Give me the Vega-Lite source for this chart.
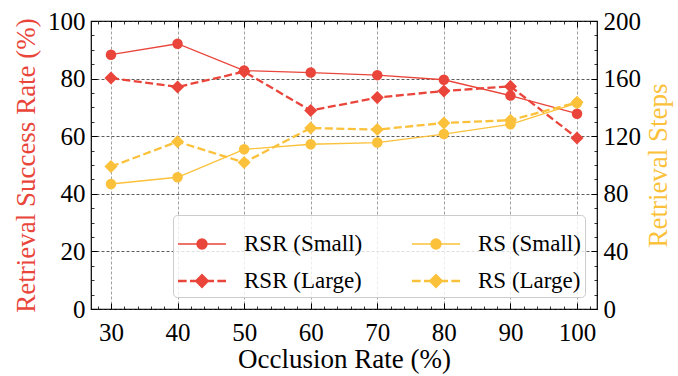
{
  "$schema": "https://vega.github.io/schema/vega-lite/v6.json",
  "width": 506,
  "height": 288,
  "autosize": {"type": "none"},
  "padding": {"left": 91, "top": 21, "right": 81, "bottom": 67},
  "background": "white",
  "config": {
    "view": {"stroke": "black", "strokeWidth": 1.2},
    "font": "Liberation Serif",
    "axis": {"labelFont": "Liberation Serif", "titleFont": "Liberation Serif", "labelColor": "black", "titleColor": "black", "titleFontWeight": "normal", "tickColor": "black", "domain": false},
    "legend": {"labelFont": "Liberation Serif"}
  },
  "data": {
    "values": [
      {"x": 30, "series": "RSR (Small)", "v": 88.3},
      {"x": 40, "series": "RSR (Small)", "v": 92.1},
      {"x": 50, "series": "RSR (Small)", "v": 82.8},
      {"x": 60, "series": "RSR (Small)", "v": 82.1},
      {"x": 70, "series": "RSR (Small)", "v": 81.2},
      {"x": 80, "series": "RSR (Small)", "v": 79.6},
      {"x": 90, "series": "RSR (Small)", "v": 74.1},
      {"x": 100, "series": "RSR (Small)", "v": 67.8},
      {"x": 30, "series": "RSR (Large)", "v": 80.2},
      {"x": 40, "series": "RSR (Large)", "v": 77.1},
      {"x": 50, "series": "RSR (Large)", "v": 82.4},
      {"x": 60, "series": "RSR (Large)", "v": 68.9},
      {"x": 70, "series": "RSR (Large)", "v": 73.4},
      {"x": 80, "series": "RSR (Large)", "v": 75.7},
      {"x": 90, "series": "RSR (Large)", "v": 77.3},
      {"x": 100, "series": "RSR (Large)", "v": 59.4},
      {"x": 30, "series": "RS (Small)", "v": 86.8},
      {"x": 40, "series": "RS (Small)", "v": 91.5},
      {"x": 50, "series": "RS (Small)", "v": 110.9},
      {"x": 60, "series": "RS (Small)", "v": 114.4},
      {"x": 70, "series": "RS (Small)", "v": 115.6},
      {"x": 80, "series": "RS (Small)", "v": 121.5},
      {"x": 90, "series": "RS (Small)", "v": 128.3},
      {"x": 100, "series": "RS (Small)", "v": 143.0},
      {"x": 30, "series": "RS (Large)", "v": 98.9},
      {"x": 40, "series": "RS (Large)", "v": 116.2},
      {"x": 50, "series": "RS (Large)", "v": 101.7},
      {"x": 60, "series": "RS (Large)", "v": 125.7},
      {"x": 70, "series": "RS (Large)", "v": 124.6},
      {"x": 80, "series": "RS (Large)", "v": 129.2},
      {"x": 90, "series": "RS (Large)", "v": 131.1},
      {"x": 100, "series": "RS (Large)", "v": 143.5}
    ]
  },
  "layer": [
    {
      "transform": [{"filter": {"field": "series", "equal": "RSR (Small)"}}],
      "mark": {"type": "line", "strokeWidth": 1.3},
      "encoding": {
        "x": {"field": "x", "type": "quantitative", "scale": {"domain": [27, 103], "nice": false, "zero": false},
          "axis": {"orient": "bottom", "values": [30, 40, 50, 60, 70, 80, 90, 100], "title": "Occlusion Rate (%)", "ticks": false, "grid": true, "gridColor": "#888888", "gridDash": [3, 2], "gridWidth": 0.8, "labelFontSize": 25, "labelPadding": 11, "titleFontSize": 27, "titlePadding": 1}},
        "y": {"field": "v", "type": "quantitative", "scale": {"domain": [0, 100], "nice": false, "zero": true},
          "axis": {"orient": "left", "values": [0, 20, 40, 60, 80, 100], "title": "Retrieval Success Rate (%)", "titleColor": "#E9453A", "ticks": false, "grid": true, "gridColor": "#333333", "gridDash": [3, 2], "gridWidth": 0.8, "labelFontSize": 25, "labelPadding": 6, "titleFontSize": 27, "titlePadding": 7}},
        "color": {"field": "series", "type": "nominal", "scale": {"domain": ["RSR (Small)", "RSR (Large)", "RS (Small)", "RS (Large)"], "range": ["#E9453A", "#E9453A", "#FBC13A", "#FBC13A"]},
          "legend": {
            "title": null, "orient": "bottom-right", "offset": 12, "columns": 2,
            "symbolSize": 2304, "symbolStrokeWidth": 1.3,
            "labelFont": "Liberation Serif", "labelFontSize": 23, "labelColor": "black", "labelOffset": 17, "labelLimit": 300,
            "columnPadding": 46, "rowPadding": 0, "padding": 4,
            "fillColor": "rgba(255,255,255,0.8)", "strokeColor": "#cccccc", "cornerRadius": 4,
            "encode": {
              "symbols": {
                "update": {
                  "size": {"value": 2304},
                  "fill": {"condition": {"test": "indexof(datum.value, 'RSR') === 0", "value": "#E9453A"}, "value": "#FBC13A"},
                  "stroke": {"condition": {"test": "indexof(datum.value, 'RSR') === 0", "value": "#E9453A"}, "value": "#FBC13A"},
                  "strokeWidth": {"value": 1.3},
                  "opacity": {"value": 1},
                  "fillOpacity": {"value": 1},
                  "strokeOpacity": {"value": 1}
                }
              }
            }
          }}
      }
    },
    {
      "transform": [{"filter": {"field": "series", "equal": "RSR (Small)"}}],
      "mark": {"type": "point", "filled": true, "opacity": 1, "shape": "circle", "size": 110},
      "encoding": {
        "x": {"field": "x", "type": "quantitative", "scale": {"domain": [27, 103], "nice": false, "zero": false}, "axis": null},
        "y": {"field": "v", "type": "quantitative", "scale": {"domain": [0, 100], "nice": false}, "axis": null},
        "color": {"field": "series", "type": "nominal", "scale": {"domain": ["RSR (Small)", "RSR (Large)", "RS (Small)", "RS (Large)"], "range": ["#E9453A", "#E9453A", "#FBC13A", "#FBC13A"]}}
      }
    },
    {
      "transform": [{"filter": {"field": "series", "equal": "RSR (Large)"}}],
      "mark": {"type": "line", "strokeWidth": 2.3, "strokeDash": [8, 3.5]},
      "encoding": {
        "x": {"field": "x", "type": "quantitative", "scale": {"domain": [27, 103], "nice": false, "zero": false}, "axis": null},
        "y": {"field": "v", "type": "quantitative", "scale": {"domain": [0, 100], "nice": false}, "axis": null},
        "color": {"field": "series", "type": "nominal", "scale": {"domain": ["RSR (Small)", "RSR (Large)", "RS (Small)", "RS (Large)"], "range": ["#E9453A", "#E9453A", "#FBC13A", "#FBC13A"]}}
      }
    },
    {
      "transform": [{"filter": {"field": "series", "equal": "RSR (Large)"}}],
      "mark": {"type": "point", "filled": true, "opacity": 1, "shape": "diamond", "size": 170},
      "encoding": {
        "x": {"field": "x", "type": "quantitative", "scale": {"domain": [27, 103], "nice": false, "zero": false}, "axis": null},
        "y": {"field": "v", "type": "quantitative", "scale": {"domain": [0, 100], "nice": false}, "axis": null},
        "color": {"field": "series", "type": "nominal", "scale": {"domain": ["RSR (Small)", "RSR (Large)", "RS (Small)", "RS (Large)"], "range": ["#E9453A", "#E9453A", "#FBC13A", "#FBC13A"]}}
      }
    },
    {
      "transform": [{"filter": {"field": "series", "equal": "RS (Small)"}}],
      "mark": {"type": "line", "strokeWidth": 1.3},
      "encoding": {
        "x": {"field": "x", "type": "quantitative", "scale": {"domain": [27, 103], "nice": false, "zero": false},
          "axis": {"orient": "top", "values": [30, 40, 50, 60, 70, 80, 90, 100], "labels": false, "ticks": true, "tickSize": -6, "tickWidth": 1, "grid": false, "title": null}},
        "y": {"field": "v", "type": "quantitative", "scale": {"domain": [0, 200], "nice": false, "zero": true},
          "axis": {"orient": "right", "values": [0, 40, 80, 120, 160, 200], "title": "Retrieval Steps", "titleColor": "#FBC13A", "titleAngle": 270, "ticks": false, "grid": false, "labelFontSize": 25, "labelPadding": 6, "titleFontSize": 27, "titlePadding": 32}},
        "color": {"field": "series", "type": "nominal", "scale": {"domain": ["RSR (Small)", "RSR (Large)", "RS (Small)", "RS (Large)"], "range": ["#E9453A", "#E9453A", "#FBC13A", "#FBC13A"]}}
      }
    },
    {
      "transform": [{"filter": {"field": "series", "equal": "RS (Small)"}}],
      "mark": {"type": "point", "filled": true, "opacity": 1, "shape": "circle", "size": 110},
      "encoding": {
        "x": {"field": "x", "type": "quantitative", "scale": {"domain": [27, 103], "nice": false, "zero": false}, "axis": null},
        "y": {"field": "v", "type": "quantitative", "scale": {"domain": [0, 200], "nice": false}, "axis": null},
        "color": {"field": "series", "type": "nominal", "scale": {"domain": ["RSR (Small)", "RSR (Large)", "RS (Small)", "RS (Large)"], "range": ["#E9453A", "#E9453A", "#FBC13A", "#FBC13A"]}}
      }
    },
    {
      "transform": [{"filter": {"field": "series", "equal": "RS (Large)"}}],
      "mark": {"type": "line", "strokeWidth": 2.3, "strokeDash": [8, 3.5]},
      "encoding": {
        "x": {"field": "x", "type": "quantitative", "scale": {"domain": [27, 103], "nice": false, "zero": false}, "axis": null},
        "y": {"field": "v", "type": "quantitative", "scale": {"domain": [0, 200], "nice": false}, "axis": null},
        "color": {"field": "series", "type": "nominal", "scale": {"domain": ["RSR (Small)", "RSR (Large)", "RS (Small)", "RS (Large)"], "range": ["#E9453A", "#E9453A", "#FBC13A", "#FBC13A"]}}
      }
    },
    {
      "transform": [{"filter": {"field": "series", "equal": "RS (Large)"}}],
      "mark": {"type": "point", "filled": true, "opacity": 1, "shape": "diamond", "size": 170},
      "encoding": {
        "x": {"field": "x", "type": "quantitative", "scale": {"domain": [27, 103], "nice": false, "zero": false}, "axis": null},
        "y": {"field": "v", "type": "quantitative", "scale": {"domain": [0, 200], "nice": false}, "axis": null},
        "color": {"field": "series", "type": "nominal", "scale": {"domain": ["RSR (Small)", "RSR (Large)", "RS (Small)", "RS (Large)"], "range": ["#E9453A", "#E9453A", "#FBC13A", "#FBC13A"]}}
      }
    },
    {
      "mark": {"type": "point", "filled": true, "opacity": 0},
      "encoding": {
        "x": {"field": "x", "type": "quantitative", "scale": {"domain": [27, 103], "nice": false, "zero": false}, "axis": null},
        "y": {"field": "v", "type": "quantitative", "scale": {"domain": [0, 200], "nice": false}, "axis": null},
        "color": {"field": "series", "type": "nominal", "scale": {"domain": ["RSR (Small)", "RSR (Large)", "RS (Small)", "RS (Large)"], "range": ["#E9453A", "#E9453A", "#FBC13A", "#FBC13A"]}},
        "shape": {"field": "series", "type": "nominal", "scale": {"type": "ordinal", "domain": ["RSR (Small)", "RSR (Large)", "RS (Small)", "RS (Large)"], "range": [
          "M-1,0H1M0.21,0A0.21,0.21 0 1 1 -0.21,0A0.21,0.21 0 1 1 0.21,0Z",
          "M-1,-0.021H-0.64M-1,0.021H-0.64M-0.5,-0.021H-0.14M-0.5,0.021H-0.14M0.14,-0.021H0.5M0.14,0.021H0.5M0.64,-0.021H1M0.64,0.021H1M0,-0.27L0.27,0L0,0.27L-0.27,0Z",
          "M-1,0H1M0.21,0A0.21,0.21 0 1 1 -0.21,0A0.21,0.21 0 1 1 0.21,0Z",
          "M-1,-0.021H-0.64M-1,0.021H-0.64M-0.5,-0.021H-0.14M-0.5,0.021H-0.14M0.14,-0.021H0.5M0.14,0.021H0.5M0.64,-0.021H1M0.64,0.021H1M0,-0.27L0.27,0L0,0.27L-0.27,0Z"
        ]}, "legend": null}
      }
    },
    {
      "transform": [{"filter": {"field": "series", "equal": "RSR (Small)"}}],
      "mark": {"type": "point", "opacity": 0},
      "encoding": {
        "x": {"field": "x", "type": "quantitative", "scale": {"domain": [27, 103], "nice": false, "zero": false},
          "axis": {"orient": "bottom", "values": [30, 40, 50, 60, 70, 80, 90, 100], "labels": false, "ticks": true, "tickSize": -6, "tickWidth": 1, "grid": false, "title": null}},
        "y": {"field": "v", "type": "quantitative", "scale": {"domain": [0, 100], "nice": false},
          "axis": {"orient": "left", "values": [0, 20, 40, 60, 80, 100], "labels": false, "ticks": true, "tickSize": -6, "tickWidth": 1, "grid": false, "title": null}}
      }
    },
    {
      "transform": [{"filter": {"field": "series", "equal": "RSR (Small)"}}],
      "mark": {"type": "point", "opacity": 0},
      "encoding": {
        "x": {"field": "x", "type": "quantitative", "scale": {"domain": [27, 103], "nice": false, "zero": false},
          "axis": {"orient": "bottom", "values": [28, 32, 34, 36, 38, 42, 44, 46, 48, 52, 54, 56, 58, 62, 64, 66, 68, 72, 74, 76, 78, 82, 84, 86, 88, 92, 94, 96, 98, 102], "labels": false, "ticks": true, "tickSize": -3, "tickWidth": 0.8, "grid": false, "title": null}},
        "y": {"field": "v", "type": "quantitative", "scale": {"domain": [0, 100], "nice": false},
          "axis": {"orient": "left", "values": [5, 10, 15, 25, 30, 35, 45, 50, 55, 65, 70, 75, 85, 90, 95], "labels": false, "ticks": true, "tickSize": -3, "tickWidth": 0.8, "grid": false, "title": null}}
      }
    },
    {
      "transform": [{"filter": {"field": "series", "equal": "RS (Small)"}}],
      "mark": {"type": "point", "opacity": 0},
      "encoding": {
        "x": {"field": "x", "type": "quantitative", "scale": {"domain": [27, 103], "nice": false, "zero": false},
          "axis": {"orient": "top", "values": [28, 32, 34, 36, 38, 42, 44, 46, 48, 52, 54, 56, 58, 62, 64, 66, 68, 72, 74, 76, 78, 82, 84, 86, 88, 92, 94, 96, 98, 102], "labels": false, "ticks": true, "tickSize": -3, "tickWidth": 0.8, "grid": false, "title": null}},
        "y": {"field": "v", "type": "quantitative", "scale": {"domain": [0, 200], "nice": false},
          "axis": {"orient": "right", "values": [10, 20, 30, 50, 60, 70, 90, 100, 110, 130, 140, 150, 170, 180, 190], "labels": false, "ticks": true, "tickSize": -3, "tickWidth": 0.8, "grid": false, "title": null}}
      }
    },
    {
      "transform": [{"filter": {"field": "series", "equal": "RS (Small)"}}],
      "mark": {"type": "point", "opacity": 0},
      "encoding": {
        "x": {"field": "x", "type": "quantitative", "scale": {"domain": [27, 103], "nice": false, "zero": false}, "axis": null},
        "y": {"field": "v", "type": "quantitative", "scale": {"domain": [0, 200], "nice": false},
          "axis": {"orient": "right", "values": [0, 40, 80, 120, 160, 200], "labels": false, "ticks": true, "tickSize": -6, "tickWidth": 1, "grid": false, "title": null}}
      }
    }
  ],
  "resolve": {
    "scale": {"y": "independent"},
    "axis": {"x": "independent", "y": "independent"}
  }
}
